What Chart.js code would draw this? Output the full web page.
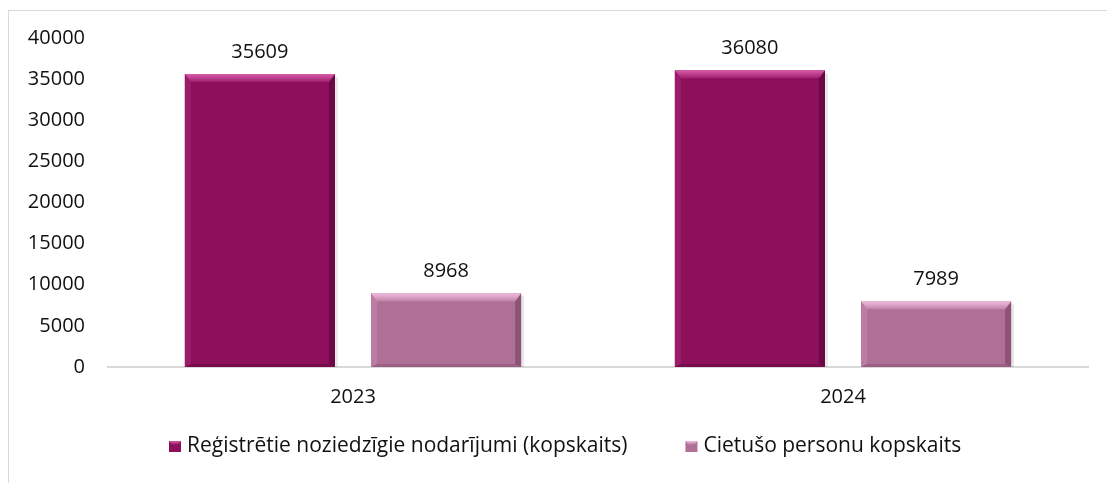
<!DOCTYPE html>
<html><head><meta charset="utf-8">
<script src="https://cdn.jsdelivr.net/npm/chart.js@4.4.1/dist/chart.umd.min.js"></script>
<style>
html,body{margin:0;padding:0;background:#fff;}
#wrap{position:relative;width:1107px;height:483px;overflow:hidden;background:#fff;}
#frame{position:absolute;left:8px;top:10px;width:1200px;height:600px;border-left:1px solid #d9d9d9;border-top:1px solid #d9d9d9;}
canvas{position:absolute;left:0;top:0;}
</style></head><body>
<div id="wrap"><div id="frame"></div><canvas id="c" width="1107" height="483"></canvas></div>
<script>
const categories = ['2023', '2024'];
const registered = [35609, 36080];
const victims = [8968, 7989];
const seriesNames = ['Reģistrētie noziedzīgie nodarījumi (kopskaits)', 'Cietušo personu kopskaits'];
const yTickValues = [0, 5000, 10000, 15000, 20000, 25000, 30000, 35000, 40000];

const FONT = '"Open Sans", "Noto Sans", sans-serif';
const palette = [
  {main:'#8e0f5c', top:['#d85cab','#a01f6d'], left:'#9b1c69', right:'#6c0845', bottom:'#790b4e'},
  {main:'#b06f96', top:['#f3bce0','#c083a8'], left:'#bb7da2', right:'#8d5375', bottom:'#9b5f82'}
];

function poly(ctx, pts, fill){
  ctx.beginPath();
  ctx.moveTo(pts[0][0], pts[0][1]);
  for (let i=1;i<pts.length;i++) ctx.lineTo(pts[i][0], pts[i][1]);
  ctx.closePath();
  ctx.fillStyle = fill;
  ctx.fill();
}

const bevelPlugin = {
  id:'bevel',
  beforeDatasetsDraw(chart){
    const ctx = chart.ctx;
    ctx.save();
    chart.data.datasets.forEach((ds,i)=>{
      chart.getDatasetMeta(i).data.forEach(bar=>{
        const p = bar.getProps(['x','y','base','width'], true);
        const r = p.x + p.width/2;
        ctx.fillStyle = 'rgba(0,0,0,0.09)';
        ctx.fillRect(r, p.y+3, 3, p.base-p.y-3);
      });
    });
    ctx.restore();
  },
  afterDatasetsDraw(chart){
    const ctx = chart.ctx;
    ctx.save();
    chart.data.datasets.forEach((ds,i)=>{
      const c = palette[i];
      chart.getDatasetMeta(i).data.forEach(bar=>{
        const p = bar.getProps(['x','y','base','width'], true);
        const l = p.x - p.width/2, r = p.x + p.width/2, t = p.y, b = p.base;
        const d = 8, s = 6;
        poly(ctx, [[l,t],[l+s,t+d],[l+s,b-3],[l,b]], c.left);
        poly(ctx, [[r,t],[r,b],[r-s,b-3],[r-s,t+d]], c.right);
        poly(ctx, [[l,b],[r,b],[r-s,b-3],[l+s,b-3]], c.bottom);
        const g = ctx.createLinearGradient(0,t,0,t+d);
        g.addColorStop(0, c.top[0]);
        g.addColorStop(1, c.top[1]);
        poly(ctx, [[l,t],[r,t],[r-s,t+d],[l+s,t+d]], g);
      });
    });
    ctx.fillStyle = '#111';
    ctx.font = '20px ' + FONT;
    ctx.textAlign = 'center';
    ctx.textBaseline = 'middle';
    chart.data.datasets.forEach((ds,i)=>{
      chart.getDatasetMeta(i).data.forEach((bar,j)=>{
        ctx.fillText(String(ds.data[j]), bar.x, bar.y - 22);
      });
    });
    ctx.restore();
  }
};

// Legend drawn from the chart's own dataset labels/colours
const legendPlugin = {
  id:'bottomLegend',
  afterDraw(chart){
    const ctx = chart.ctx;
    ctx.save();
    ctx.font = '21px ' + FONT;
    ctx.textBaseline = 'middle';
    ctx.textAlign = 'left';
    const box = 12, gapText = 6, gapItem = 58, cy = 446, centerX = 565;
    const items = chart.data.datasets.map((ds,i)=>({text: ds.label, w: ctx.measureText(ds.label).width, c: palette[i]}));
    let total = 0;
    items.forEach((it,i)=>{ total += box + gapText + it.w + (i ? gapItem : 0); });
    let x = Math.round(centerX - total/2);
    items.forEach((it,i)=>{
      if (i) x += gapItem;
      const by = cy - 5;
      ctx.fillStyle = it.c.main;
      ctx.fillRect(x, by, box, 11);
      const g = ctx.createLinearGradient(0, by, 0, by + 4);
      g.addColorStop(0, it.c.top[0]); g.addColorStop(1, it.c.main);
      poly(ctx, [[x,by],[x+box,by],[x+box-3,by+4],[x+3,by+4]], g);
      ctx.fillStyle = '#111';
      ctx.fillText(it.text, x + box + gapText, cy);
      x += box + gapText + it.w;
    });
    ctx.restore();
  }
};

new Chart(document.getElementById('c'), {
  type:'bar',
  data:{
    labels: categories,
    datasets:[
      {label: seriesNames[0], data: registered, backgroundColor: palette[0].main, borderWidth:0},
      {label: seriesNames[1], data: victims, backgroundColor: palette[1].main, borderWidth:0}
    ]
  },
  options:{
    responsive:false,
    animation:false,
    devicePixelRatio:1,
    categoryPercentage:0.76,
    barPercentage:0.806,
    layout:{padding:{left:0, right:19, top:38, bottom:56}},
    plugins:{
      tooltip:{enabled:false},
      legend:{display:false}
    },
    scales:{
      x:{
        grid:{display:false, drawTicks:false},
        border:{display:true, color:'#d9d9d9', width:2},
        ticks:{font:{family:FONT, size:20}, color:'#111', padding:18},
        afterFit(scale){ scale.height = 60; }
      },
      y:{
        min:0, max:40000,
        afterBuildTicks(scale){ scale.ticks = yTickValues.map(v=>({value:v})); },
        grid:{display:false, drawTicks:false},
        border:{display:false},
        ticks:{font:{family:FONT, size:20}, color:'#111', padding:23, callback:(v)=>String(v)},
        afterFit(scale){ scale.width = 108; }
      }
    }
  },
  plugins:[bevelPlugin, legendPlugin]
});
</script>
</body></html>
